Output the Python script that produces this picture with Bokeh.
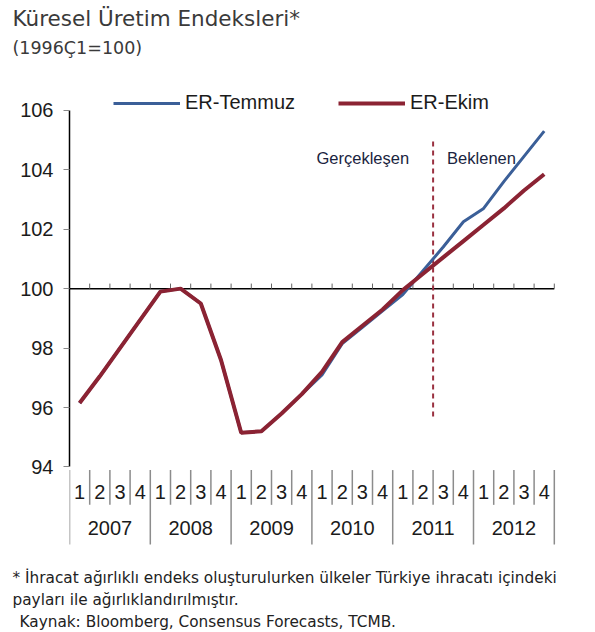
from bokeh.plotting import figure
from bokeh.models import (Range1d, LinearAxis, FixedTicker, Title, Legend, LegendItem,
                          ColumnDataSource)
from bokeh.core.properties import value
from bokeh.embed import file_html
from bokeh.resources import INLINE

# ---------------- data ----------------
years = ["2007", "2008", "2009", "2010", "2011", "2012"]
quarters = ["1", "2", "3", "4"]
er_temmuz = [96.15, 97.05, 98.0, 98.95, 99.9, 100.0, 99.5, 97.6, 95.15, 95.2, 95.8, 96.45,
             97.1, 98.15, 98.7, 99.25, 99.8, 100.6, 101.4, 102.25, 102.7, 103.6, 104.45, 105.3]
er_ekim = [96.15, 97.05, 98.0, 98.95, 99.9, 100.0, 99.5, 97.6, 95.15, 95.2, 95.8, 96.45,
           97.2, 98.2, 98.75, 99.3, 99.95, 100.5, 101.05, 101.6, 102.15, 102.7, 103.3, 103.85]
y_ticks = [94, 96, 98, 100, 102, 104, 106]
forecast_from = ("2011", "3")
baseline = 100
title_text = "Küresel Üretim Endeksleri*"
subtitle_text = "(1996Ç1=100)"
notes = ["* İhracat ağırlıklı endeks oluşturulurken ülkeler Türkiye ihracatı içindeki",
         "payları ile ağırlıklandırılmıştır.",
         "Kaynak: Bloomberg, Consensus Forecasts, TCMB."]

# ---------------- derived ----------------
factors = [(y, q) for y in years for q in quarters]
xs = list(range(len(factors)))
n = len(factors)
q_labels = [q for (_, q) in factors]
fi = factors.index(forecast_from)
split_x = fi - 0.5

BLUE = "#3b5f98"
RED = "#8b2333"
TXT = "#1b1b1b"
FONT = "Liberation Sans"
TFONT = "DejaVu Sans"

p = figure(width=595, height=632, output_backend="svg", toolbar_location=None,
           x_range=Range1d(-0.5, 24.054), y_range=Range1d(90.686, 107.742),
           x_axis_type=None, y_axis_type=None,
           min_border_left=69, min_border_right=30, min_border_top=58, min_border_bottom=64)
p.outline_line_color = None
p.background_fill_color = "white"
p.border_fill_color = "white"

# y axis
yax = LinearAxis(ticker=FixedTicker(ticks=y_ticks, minor_ticks=[]), bounds=(min(y_ticks), max(y_ticks)))
yax.axis_line_color = "black"
yax.axis_line_width = 1.5
yax.major_tick_line_color = "#888888"
yax.major_tick_line_width = 1.2
yax.major_tick_in = 0
yax.major_tick_out = 6
yax.minor_tick_line_color = None
yax.major_label_standoff = 10
yax.major_label_text_font = FONT
yax.major_label_text_font_size = "20px"
yax.major_label_text_color = TXT
p.add_layout(yax, "left")

# baseline at 100 with upward ticks
p.segment(x0=[-0.5], y0=[baseline], x1=[n - 0.5], y1=[baseline], line_color="black", line_width=1.5)
bx = [i + 0.5 for i in range(n)]
p.segment(x0=bx, y0=[baseline] * n, x1=bx, y1=[baseline + 0.17] * n, line_color="#666666", line_width=1)

# dashed forecast split
p.segment(x0=[split_x], y0=[95.7], x1=[split_x], y1=[105.0], line_color="#9a3040",
          line_width=2, line_dash="5 4")
p.text(x=[split_x], y=[104.4], text=["Gerçekleşen"], x_offset=-24, text_align="right",
       text_baseline="middle", text_font=value(FONT), text_font_size="16.5px", text_color="#1a2440")
p.text(x=[split_x], y=[104.4], text=["Beklenen"], x_offset=14, text_align="left",
       text_baseline="middle", text_font=value(FONT), text_font_size="16.5px", text_color="#1a2440")

# series
src = ColumnDataSource(dict(x=xs, t=er_temmuz, e=er_ekim))
r_t = p.line("x", "t", source=src, line_color=BLUE, line_width=3)
r_e = p.line("x", "e", source=src, line_color=RED, line_width=4)

# category axis drawn in the lower part of the frame
sep_top, q_sep_bot, y_sep_bot = 93.896, 92.726, 91.39
year_bounds = [i - 0.5 for i in range(0, n + 1, len(quarters))]
q_bounds = [i + 0.5 for i in range(n - 1) if (i + 1) % len(quarters) != 0]
p.segment(x0=q_bounds, y0=[sep_top] * len(q_bounds), x1=q_bounds, y1=[q_sep_bot] * len(q_bounds),
          line_color="#8c8c8c", line_width=1.5)
p.segment(x0=year_bounds, y0=[sep_top] * len(year_bounds), x1=year_bounds,
          y1=[y_sep_bot] * len(year_bounds), line_color="#8c8c8c", line_width=1.5)
p.text(x=xs, y=[93.16] * n, text=q_labels, text_align="center", text_baseline="middle",
       text_font=value(FONT), text_font_size="20px", text_color=TXT)
yc = [sum(range(k * 4, k * 4 + 4)) / 4 for k in range(len(years))]
p.text(x=yc, y=[91.956] * len(years), text=years, text_align="center", text_baseline="middle",
       text_font=value(FONT), text_font_size="20px", text_color=TXT)

# legend
leg = Legend(items=[LegendItem(label="ER-Temmuz", renderers=[r_t]),
                    LegendItem(label="ER-Ekim", renderers=[r_e])],
             orientation="horizontal", location=(44, 451), glyph_width=67, glyph_height=20,
             label_height=20, label_standoff=5, spacing=43, padding=0, margin=0,
             border_line_color=None, background_fill_alpha=0,
             label_text_font=FONT, label_text_font_size="20px", label_text_color=TXT)
p.add_layout(leg, "center")

# titles above (first added sits closest to the frame)
p.add_layout(Title(text=subtitle_text, align="left", offset=-57, standoff=1.6,
                   text_font=TFONT, text_font_size="17.5px", text_font_style="normal",
                   text_color="#3a3a3a"), "above")
p.add_layout(Title(text=title_text, align="left", offset=-57, standoff=7,
                   text_font=TFONT, text_font_size="21.5px", text_font_style="normal",
                   text_color="#3a3a3a"), "above")
# notes below
note_standoffs = [2.5, 0.5, 2.5]
note_offsets = [-57, -57, -50]
for t, s, o in zip(notes, note_standoffs, note_offsets):
    p.add_layout(Title(text=t, align="left", offset=o, standoff=s,
                       text_font=TFONT, text_font_size="15.3px", text_font_style="normal",
                       text_color="#222222"), "below")

open("out.html", "w").write(file_html(p, INLINE))
